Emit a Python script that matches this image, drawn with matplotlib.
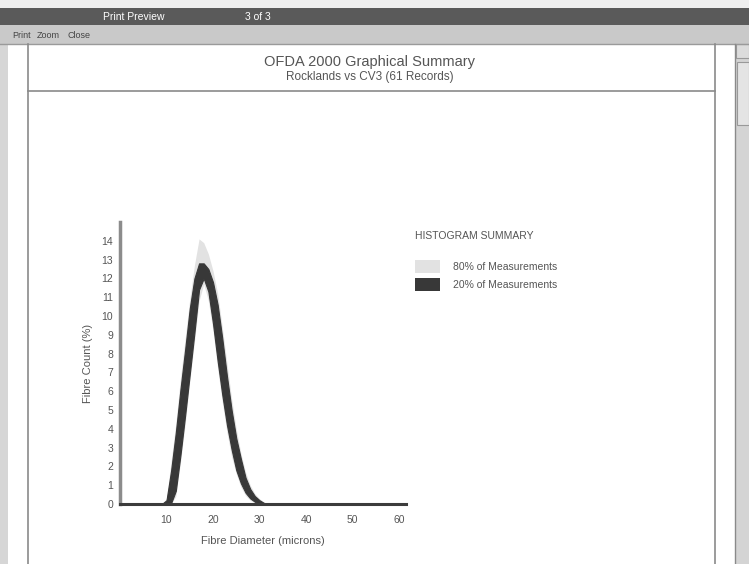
import matplotlib
matplotlib.use("Agg")
import matplotlib.pyplot as plt
from matplotlib.patches import Rectangle
from matplotlib.lines import Line2D

plt.rcParams['font.family'] = ['Liberation Sans', 'DejaVu Sans']
plt.rcParams['hatch.color'] = '#b0b0b0'

# ---- data ----
diameter = [9, 10, 11, 12, 13, 14, 15, 16, 17, 18, 19, 20, 21, 22, 23, 24, 25, 26, 27, 28, 29, 30, 31, 32]
hi80 = [0, 0.3, 2.3, 4.3, 6.7, 8.8, 10.9, 12.7, 14.1, 13.9, 13.3, 12.4, 11.2, 9.4, 7.5, 5.6, 4.0, 2.7, 1.7, 1.0, 0.55, 0.28, 0.1, 0]
lo80 = [0, 0, 0, 0.4, 2.2, 4.2, 6.5, 8.6, 10.8, 11.7, 10.8, 9.2, 7.2, 5.4, 3.8, 2.5, 1.6, 0.9, 0.45, 0.2, 0.05, 0, 0, 0]
hi20 = [0, 0.2, 1.8, 3.8, 6.1, 8.2, 10.4, 12.0, 12.8, 12.8, 12.5, 11.8, 10.6, 8.8, 6.8, 5.0, 3.5, 2.4, 1.4, 0.8, 0.42, 0.2, 0.05, 0]
lo20 = [0, 0, 0.05, 0.7, 2.6, 4.7, 6.9, 9.1, 11.4, 12.0, 11.3, 9.6, 7.6, 5.8, 4.2, 2.9, 1.8, 1.1, 0.6, 0.3, 0.12, 0.02, 0, 0]
x_ticks = [10, 20, 30, 40, 50, 60]
y_ticks = list(range(0, 15))
title = "OFDA 2000 Graphical Summary"
subtitle = "Rocklands vs CV3 (61 Records)"
legend_title = "HISTOGRAM SUMMARY"
legend_labels = ["80% of Measurements", "20% of Measurements"]

W, H = 749, 564
fig = plt.figure(figsize=(W / 100, H / 100), dpi=100)
fig.patch.set_facecolor('white')


def px_rect(x0, y0, x1, y1, **kw):
    fig.add_artist(Rectangle((x0 / W, 1 - y1 / H), (x1 - x0) / W, (y1 - y0) / H,
                             transform=fig.transFigure, **kw))


def px_line(x0, y0, x1, y1, **kw):
    fig.add_artist(Line2D([x0 / W, x1 / W], [1 - y0 / H, 1 - y1 / H],
                          transform=fig.transFigure, **kw))


def px_text(x, y, s, **kw):
    fig.text(x / W, 1 - y / H, s, **kw)


# window chrome
px_rect(0, 0, W, 8, facecolor='#efefef', edgecolor='none')
px_rect(0, 8, W, 25, facecolor='#5a5a5a', edgecolor='none')
px_rect(0, 25, W, 44, facecolor='#c9c9c9', edgecolor='none')
px_line(0, 44, W, 44, color='#9a9a9a', lw=1)
px_text(103, 17, "Print Preview", color='white', fontsize=7.5, va='center')
px_text(245, 17, "3 of 3", color='white', fontsize=7.5, va='center')
px_text(12, 35, "Print", color='#444444', fontsize=6.5, va='center')
px_text(37, 35, "Zoom", color='#444444', fontsize=6.5, va='center')
px_text(68, 35, "Close", color='#444444', fontsize=6.5, va='center')

# left margin + scrollbar
px_rect(0, 44, 8, H, facecolor='#d6d6d6', edgecolor='none')
px_rect(736, 44, W, H, facecolor='#d4d4d4', edgecolor='none', hatch='////')
px_rect(736, 44, W, 58, facecolor='#dcdcdc', edgecolor='#999999', lw=0.8)
px_rect(737, 62, W, 125, facecolor='#e4e4e4', edgecolor='#999999', lw=0.8)
px_line(735, 44, 735, H, color='#8a8a8a', lw=1)

# page border and header box
px_line(28, 44, 28, H, color='#8a8a8a', lw=1.2)
px_line(715, 44, 715, H, color='#8a8a8a', lw=1.2)
px_line(28, 91, 715, 91, color='#8a8a8a', lw=1.2)
px_text(370, 62, title, color='#555555', fontsize=10.5, ha='center', va='center')
px_text(370, 77, subtitle, color='#555555', fontsize=8.5, ha='center', va='center')

# chart axes
ax_l, ax_r, ax_t, ax_b = 120, 406, 222, 504
ax = fig.add_axes([ax_l / W, 1 - ax_b / H, (ax_r - ax_l) / W, (ax_b - ax_t) / H])
ax.set_xlim(0, 61.5)
ax.set_ylim(0, 15)
ax.fill_between(diameter, lo80, hi80, color='#e2e2e2', lw=0)
ax.fill_between(diameter, lo20, hi20, color='#383838', lw=0.8, edgecolor='#383838')
ax.set_facecolor('none')
for s in ['top', 'right']:
    ax.spines[s].set_visible(False)
ax.spines['left'].set_color('#8c8c8c')
ax.spines['left'].set_linewidth(2.5)
ax.spines['bottom'].set_color('#3c3c3c')
ax.spines['bottom'].set_linewidth(2.2)
ax.set_xticks(x_ticks)
ax.set_yticks(y_ticks)
ax.tick_params(axis='x', length=0, labelsize=7.5, colors='#555555', pad=8)
ax.tick_params(axis='y', length=0, labelsize=7.5, colors='#555555', pad=5)
ax.set_xlabel("Fibre Diameter (microns)", fontsize=8, color='#555555', labelpad=8)
ax.set_ylabel("Fibre Count (%)", fontsize=8, color='#555555', labelpad=6)

# legend
px_text(415, 236, legend_title, color='#555555', fontsize=7.5, va='center')
px_rect(415, 260, 440, 273, facecolor='#e2e2e2', edgecolor='none')
px_rect(415, 278, 440, 291, facecolor='#383838', edgecolor='none')
px_text(453, 267, legend_labels[0], color='#555555', fontsize=7.5, va='center')
px_text(453, 285, legend_labels[1], color='#555555', fontsize=7.5, va='center')

fig.savefig("out.png", dpi=100)
